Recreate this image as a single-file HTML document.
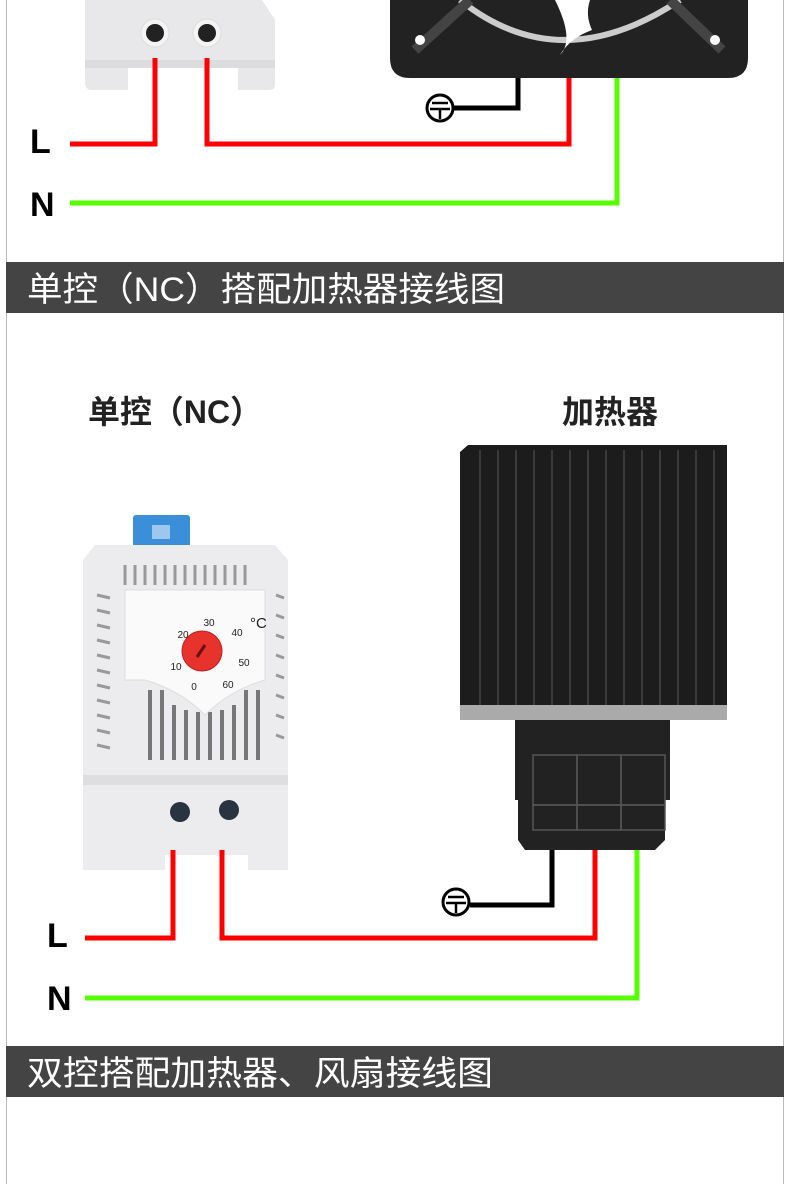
<!DOCTYPE html>
<html><head><meta charset="utf-8"><style>
body{margin:0;width:790px;height:1184px;overflow:hidden;background:#fff;font-family:"Liberation Sans","Noto Sans CJK SC",sans-serif}
svg{position:absolute;left:0;top:0}
</style></head><body>
<svg width="790" height="1184" viewBox="0 0 790 1184" xmlns="http://www.w3.org/2000/svg">
<line x1="6.5" y1="0" x2="6.5" y2="1184" stroke="#bbb" stroke-width="1"/>
<line x1="783.5" y1="0" x2="783.5" y2="1184" stroke="#bbb" stroke-width="1"/>

<!-- TOP thermostat bottom -->
<path d="M85 0 H262 L275 20 V85 Q275 90 268 90 H238 V66 H128 V90 H92 Q85 90 85 82 Z" fill="#e8e8ea"/>
<rect x="85" y="60" width="190" height="8" fill="#dcdcde"/>
<circle cx="155" cy="33" r="14" fill="#f4f4f4" stroke="#ddd"/>
<circle cx="155" cy="33" r="9" fill="#222"/>
<circle cx="207" cy="33" r="14" fill="#f4f4f4" stroke="#ddd"/>
<circle cx="207" cy="33" r="9" fill="#222"/>
<!-- fan -->
<path d="M390 0 H748 V58 Q748 78 728 78 H410 Q390 78 390 58 Z" fill="#222"/>
<path d="M460 0 Q560 80 680 0" fill="none" stroke="#ccc" stroke-width="6"/>
<path d="M555 0 Q575 40 560 55 Q570 38 592 30 Q585 15 590 0 Z" fill="#fff"/>
<line x1="415" y1="50" x2="470" y2="0" stroke="#444" stroke-width="10"/>
<line x1="722" y1="50" x2="670" y2="0" stroke="#444" stroke-width="10"/>
<circle cx="420" cy="40" r="5" fill="#fff"/>
<circle cx="715" cy="40" r="5" fill="#fff"/>

<g fill="none" stroke-width="5">
<polyline points="155,58 155,144 70,144" stroke="#ff0000"/>
<polyline points="207,58 207,144 569,144 569,78" stroke="#ff0000"/>
<polyline points="518,78 518,108 452,108" stroke="#000"/>
<polyline points="617,78 617,203 70,203" stroke="#55ff00"/>
</g>
<g>
<circle cx="440" cy="108" r="13" fill="#fff" stroke="#000" stroke-width="3"/>
<line x1="432" y1="103" x2="448" y2="103" stroke="#000" stroke-width="2.5"/>
<line x1="430" y1="109" x2="450" y2="109" stroke="#000" stroke-width="2.5"/>
<line x1="440" y1="109" x2="440" y2="119" stroke="#000" stroke-width="2.5"/>
</g>
<text x="30" y="153" font-size="34" font-weight="bold" fill="#000">L</text>
<text x="30" y="216" font-size="34" font-weight="bold" fill="#000">N</text>

<rect x="6" y="262" width="778" height="51" fill="#444"/>
<text x="27" y="301" font-size="34" fill="#fff" textLength="478" lengthAdjust="spacingAndGlyphs">单控（NC）搭配加热器接线图</text>

<text x="88" y="423" font-size="32" font-weight="bold" fill="#222" textLength="174" lengthAdjust="spacingAndGlyphs">单控（NC）</text>
<text x="610" y="423" font-size="32" font-weight="bold" text-anchor="middle" fill="#222">加热器</text>

<!-- thermostat -->
<rect x="133" y="515" width="57" height="38" rx="3" fill="#3a8fd8"/>
<rect x="152" y="525" width="18" height="14" fill="#fff" opacity=".5"/>
<path d="M95 545 H275 L288 560 V870 H248 V855 H165 V870 H83 V560 Z" fill="#ececee"/>
<g stroke="#999" stroke-width="3">
<line x1="125" y1="565" x2="125" y2="585"/><line x1="135" y1="565" x2="135" y2="585"/><line x1="145" y1="565" x2="145" y2="585"/><line x1="155" y1="565" x2="155" y2="585"/><line x1="165" y1="565" x2="165" y2="585"/><line x1="175" y1="565" x2="175" y2="585"/><line x1="185" y1="565" x2="185" y2="585"/><line x1="195" y1="565" x2="195" y2="585"/><line x1="205" y1="565" x2="205" y2="585"/><line x1="215" y1="565" x2="215" y2="585"/><line x1="225" y1="565" x2="225" y2="585"/><line x1="235" y1="565" x2="235" y2="585"/><line x1="245" y1="565" x2="245" y2="585"/>
</g>
<g stroke="#777" stroke-width="4">
<line x1="150" y1="690" x2="150" y2="760"/><line x1="162" y1="690" x2="162" y2="760"/><line x1="174" y1="705" x2="174" y2="760"/><line x1="186" y1="710" x2="186" y2="760"/><line x1="198" y1="712" x2="198" y2="760"/><line x1="210" y1="712" x2="210" y2="760"/><line x1="222" y1="710" x2="222" y2="760"/><line x1="234" y1="705" x2="234" y2="760"/><line x1="246" y1="690" x2="246" y2="760"/><line x1="258" y1="690" x2="258" y2="760"/>
</g>
<g stroke="#999" stroke-width="3">
<line x1="97" y1="595" x2="110" y2="598"/><line x1="97" y1="610" x2="110" y2="613"/><line x1="97" y1="625" x2="110" y2="628"/><line x1="97" y1="640" x2="110" y2="643"/><line x1="97" y1="655" x2="110" y2="658"/><line x1="97" y1="670" x2="110" y2="673"/><line x1="97" y1="685" x2="110" y2="688"/><line x1="97" y1="700" x2="110" y2="703"/><line x1="97" y1="715" x2="110" y2="718"/><line x1="97" y1="730" x2="110" y2="733"/><line x1="97" y1="745" x2="110" y2="748"/>
<line x1="276" y1="595" x2="284" y2="598"/><line x1="276" y1="615" x2="284" y2="618"/><line x1="276" y1="635" x2="284" y2="638"/><line x1="276" y1="655" x2="284" y2="658"/><line x1="276" y1="675" x2="284" y2="678"/><line x1="276" y1="695" x2="284" y2="698"/><line x1="276" y1="715" x2="284" y2="718"/><line x1="276" y1="735" x2="284" y2="738"/>
</g>
<path d="M125 590 H265 V680 Q230 690 205 715 Q180 690 145 680 H125 Z" fill="#fafafa" stroke="#ddd"/>
<circle cx="202" cy="651" r="20" fill="#e8322c" stroke="#b22" stroke-width="1"/>
<line x1="197" y1="657" x2="205" y2="645" stroke="#611" stroke-width="3"/>
<g font-size="10" fill="#222" text-anchor="middle">
<text x="194" y="690">0</text><text x="176" y="670">10</text><text x="183" y="638">20</text><text x="209" y="626">30</text><text x="237" y="636">40</text><text x="244" y="666">50</text><text x="228" y="688">60</text>
</g>
<text x="250" y="628" font-size="15" fill="#222">°C</text>
<rect x="83" y="775" width="205" height="10" fill="#dedee0"/>
<circle cx="180" cy="812" r="10" fill="#2a3340"/>
<circle cx="229" cy="810" r="10" fill="#2a3340"/>

<!-- heater -->
<path d="M468 445 H727 V712 L718 720 H468 L460 712 V452 Z" fill="#1c1c1c"/>
<g stroke="#3a3a3a" stroke-width="2">
<line x1="480" y1="450" x2="480" y2="710"/><line x1="498" y1="450" x2="498" y2="710"/><line x1="516" y1="450" x2="516" y2="710"/><line x1="534" y1="450" x2="534" y2="710"/><line x1="552" y1="450" x2="552" y2="710"/><line x1="570" y1="450" x2="570" y2="710"/><line x1="588" y1="450" x2="588" y2="710"/><line x1="606" y1="450" x2="606" y2="710"/><line x1="624" y1="450" x2="624" y2="710"/><line x1="642" y1="450" x2="642" y2="710"/><line x1="660" y1="450" x2="660" y2="710"/><line x1="678" y1="450" x2="678" y2="710"/><line x1="696" y1="450" x2="696" y2="710"/><line x1="714" y1="450" x2="714" y2="710"/>
</g>
<rect x="460" y="705" width="267" height="15" fill="#aaa"/>
<path d="M515 720 H670 V800 H665 V840 L655 850 H525 L518 840 V800 H515 Z" fill="#222"/>
<g fill="none" stroke="#555" stroke-width="1.5">
<rect x="533" y="755" width="44" height="50"/><rect x="577" y="755" width="44" height="50"/><rect x="621" y="755" width="44" height="50"/>
<rect x="533" y="805" width="44" height="25"/><rect x="577" y="805" width="44" height="25"/><rect x="621" y="805" width="44" height="25"/>
</g>

<g fill="none" stroke-width="5">
<polyline points="173,850 173,938 85,938" stroke="#ff0000"/>
<polyline points="222,850 222,938 595,938 595,850" stroke="#ff0000"/>
<polyline points="552,850 552,905 470,905" stroke="#000"/>
<polyline points="637,850 637,998 85,998" stroke="#55ff00"/>
</g>
<g>
<circle cx="456" cy="902" r="13" fill="#fff" stroke="#000" stroke-width="3"/>
<line x1="448" y1="897" x2="464" y2="897" stroke="#000" stroke-width="2.5"/>
<line x1="446" y1="903" x2="466" y2="903" stroke="#000" stroke-width="2.5"/>
<line x1="456" y1="903" x2="456" y2="913" stroke="#000" stroke-width="2.5"/>
</g>
<text x="47" y="947" font-size="34" font-weight="bold" fill="#000">L</text>
<text x="47" y="1010" font-size="34" font-weight="bold" fill="#000">N</text>

<rect x="6" y="1046" width="778" height="51" fill="#444"/>
<text x="27" y="1085" font-size="34" fill="#fff" textLength="466" lengthAdjust="spacingAndGlyphs">双控搭配加热器、风扇接线图</text>
</svg>
</body></html>
